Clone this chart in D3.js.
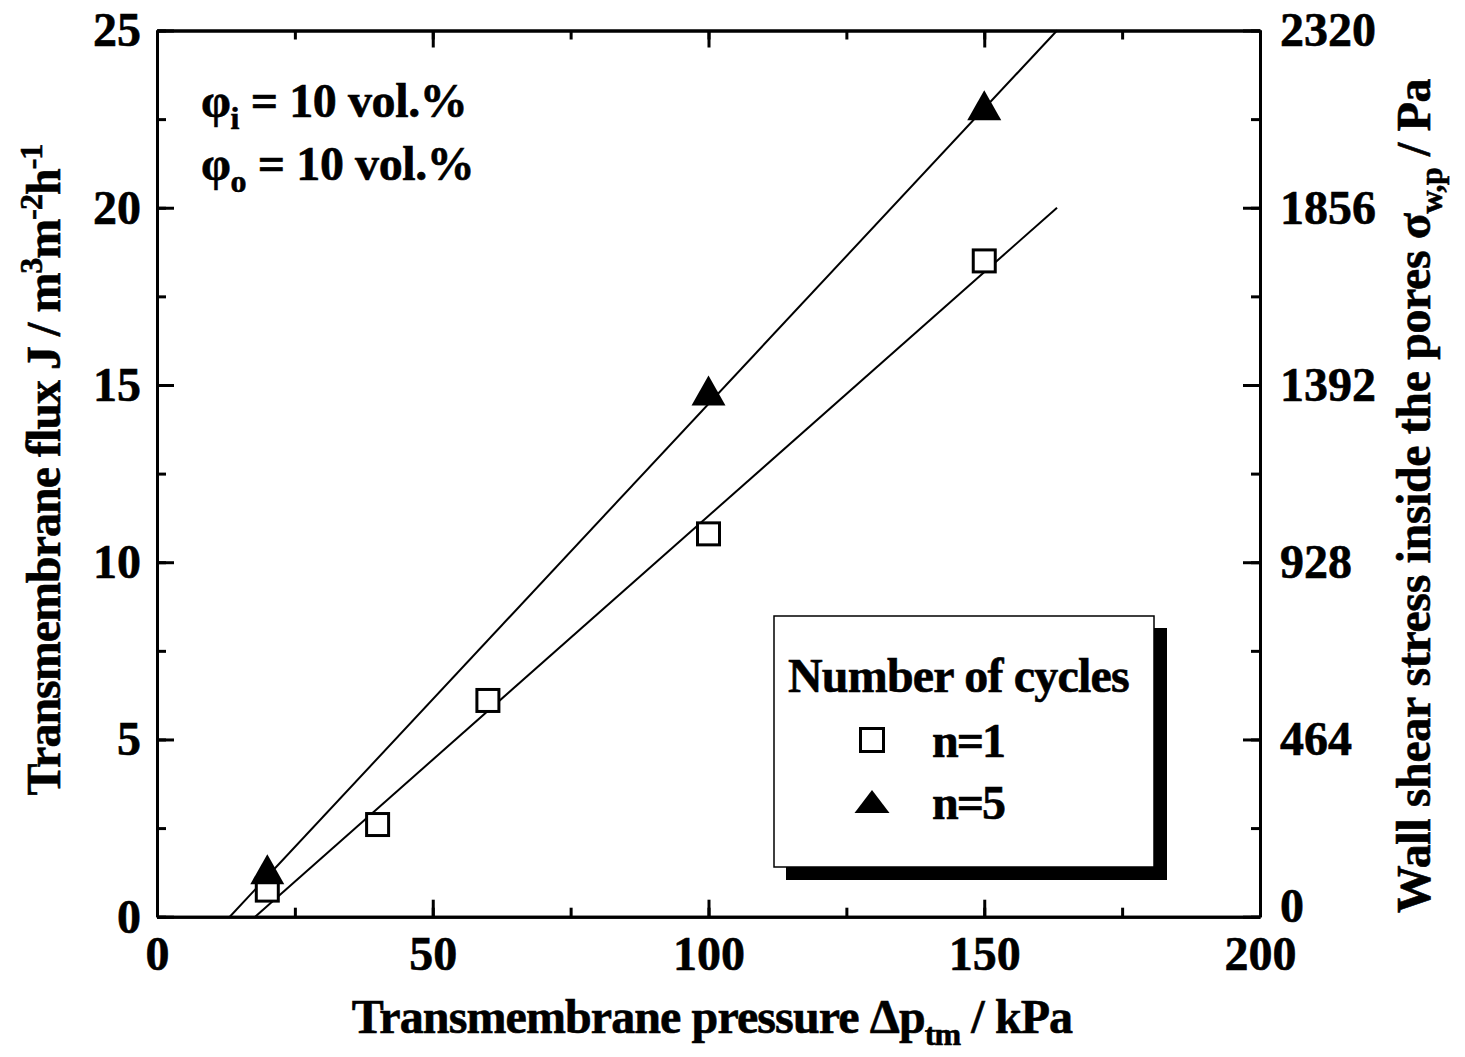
<!DOCTYPE html>
<html>
<head>
<meta charset="utf-8">
<script src="https://cdn.jsdelivr.net/npm/d3@7"></script>
<style>
  html, body { margin: 0; padding: 0; background: #fff; }
  svg { display: block; }
  text { font-family: "Liberation Serif", "Times New Roman", serif; font-weight: bold; fill: #000; stroke: #000; stroke-width: 0.6px; }
</style>
</head>
<body>
<svg id="chart" width="1465" height="1057"></svg>
<script>
// Transmembrane pressure (kPa) and measured flux (m3 m-2 h-1)
const pressureN1 = [20, 40, 60, 100, 150];
const fluxN1     = [0.75, 2.6, 6.1, 10.8, 18.5];
const pressureN5 = [20, 100, 150];
const fluxN5     = [1.2, 14.7, 22.75];

// Linear fits: [pressure, flux] end points
const fitN1 = [[17.8, 0], [163.2, 20]];
const fitN5 = [[13.2, 0], [163.2, 25]];

// Axis ticks
const xTicks = [0, 50, 100, 150, 200];
const yTicks = [0, 5, 10, 15, 20, 25];
const y2Ticks = [0, 464, 928, 1392, 1856, 2320];

const legendTitle = "Number of cycles";
const legendLabels = ["n=1", "n=5"];

const svg = d3.select("#chart");
const L = 157, R = 1260, T = 30.5, B = 916.7;

const x = d3.scaleLinear().domain([0, 200]).range([L, R]);
const y = d3.scaleLinear().domain([0, 25]).range([B, T]);
const y2 = d3.scaleLinear().domain([0, 2320]).range([B, T]);

const FS = 48;

function styleAxis(g, showLabels) {
  g.selectAll(".domain").attr("stroke", "#000").attr("stroke-width", 3);
  g.selectAll(".tick line").attr("stroke", "#000").attr("stroke-width", 3);
  g.selectAll(".tick text")
    .style("font-family", '"Liberation Serif", "Times New Roman", serif')
    .style("font-weight", "bold")
    .style("font-size", FS + "px")
    .attr("fill", "#000");
  if (!showLabels) g.selectAll(".tick text").remove();
}

// Minor ticks
const minorX = d3.range(0, 201, 25);
const minorY = d3.range(0, 25.01, 2.5);
const minorY2 = d3.range(0, 2321, 232);

svg.append("g").attr("transform", `translate(0,${B})`)
  .call(d3.axisBottom(x).tickValues(minorX).tickSize(-9).tickSizeOuter(0).tickFormat(""))
  .call(g => styleAxis(g, false));
svg.append("g").attr("transform", `translate(0,${T})`)
  .call(d3.axisTop(x).tickValues(minorX).tickSize(-9).tickSizeOuter(0).tickFormat(""))
  .call(g => styleAxis(g, false));
svg.append("g").attr("transform", `translate(${L},0)`)
  .call(d3.axisLeft(y).tickValues(minorY).tickSize(-9).tickSizeOuter(0).tickFormat(""))
  .call(g => styleAxis(g, false));
svg.append("g").attr("transform", `translate(${R},0)`)
  .call(d3.axisRight(y2).tickValues(minorY2).tickSize(-9).tickSizeOuter(0).tickFormat(""))
  .call(g => styleAxis(g, false));

// Major ticks and labels
svg.append("g").attr("transform", `translate(0,${B})`)
  .call(d3.axisBottom(x).tickValues(xTicks).tickSize(-17).tickSizeOuter(0).tickPadding(19).tickFormat(d3.format("d")))
  .call(g => styleAxis(g, true));
svg.append("g").attr("transform", `translate(0,${T})`)
  .call(d3.axisTop(x).tickValues(xTicks).tickSize(-17).tickSizeOuter(0).tickFormat(""))
  .call(g => styleAxis(g, false));
svg.append("g").attr("transform", `translate(${L},0)`)
  .call(d3.axisLeft(y).tickValues(yTicks).tickSize(-17).tickSizeOuter(0).tickPadding(16).tickFormat(d3.format("d")))
  .call(g => styleAxis(g, true));
const rightAxis = svg.append("g").attr("transform", `translate(${R},0)`)
  .call(d3.axisRight(y2).tickValues(y2Ticks).tickSize(-17).tickSizeOuter(0).tickPadding(20).tickFormat(d3.format("d")))
  .call(g => styleAxis(g, true));
// the lowest right-hand label sits just above the x labels
rightAxis.selectAll(".tick text").filter(d => d === 0).attr("dy", "0.1em");

// Fit lines
const line = d3.line().x(d => x(d[0])).y(d => y(d[1]));
[fitN1, fitN5].forEach(f => {
  svg.append("path").attr("d", line(f))
    .attr("fill", "none").attr("stroke", "#000").attr("stroke-width", 2);
});

// Markers
const SQ = 22;
function squareAt(g, cx, cy, s) {
  g.append("rect").attr("x", cx - s / 2).attr("y", cy - s / 2)
    .attr("width", s).attr("height", s)
    .attr("fill", "#fff").attr("stroke", "#000").attr("stroke-width", 3);
}
function triangleAt(g, cx, cy, w, h) {
  // cy is the centroid
  const top = cy - h * 2 / 3, bot = cy + h / 3;
  g.append("path")
    .attr("d", `M${cx},${top}L${cx + w / 2},${bot}L${cx - w / 2},${bot}Z`)
    .attr("fill", "#000");
}
const marks = svg.append("g");
pressureN1.forEach((p, i) => squareAt(marks, x(p), y(fluxN1[i]), SQ));
pressureN5.forEach((p, i) => triangleAt(marks, x(p), y(fluxN5[i]), 34, 30));

// Annotation
function phiLine(yb, sub) {
  const t = svg.append("text").attr("x", 201).attr("y", yb)
    .style("font-size", FS + "px").style("letter-spacing", "-0.4px");
  t.append("tspan").text("φ");
  t.append("tspan").attr("dy", 12).style("font-size", "32px").text(sub);
  t.append("tspan").attr("dy", -12).text(" = 10 vol.%");
}
phiLine(117, "i");
phiLine(180, "o");

// Legend
const lg = svg.append("g");
lg.append("rect").attr("x", 786).attr("y", 628).attr("width", 381).attr("height", 252).attr("fill", "#000");
lg.append("rect").attr("x", 774).attr("y", 616).attr("width", 380).attr("height", 251)
  .attr("fill", "#fff").attr("stroke", "#000").attr("stroke-width", 1.5);
lg.append("text").attr("x", 788).attr("y", 692)
  .style("font-size", FS + "px").style("letter-spacing", "-0.8px").text(legendTitle);
squareAt(lg, 872, 740, 23);
lg.append("path").attr("d", "M872,790L889.5,813L854.5,813Z").attr("fill", "#000");
lg.append("text").attr("x", 932).attr("y", 757)
  .style("font-size", FS + "px").style("letter-spacing", "-2px").text(legendLabels[0]);
lg.append("text").attr("x", 932).attr("y", 819)
  .style("font-size", FS + "px").style("letter-spacing", "-2px").text(legendLabels[1]);

// X axis title
const xt = svg.append("text").attr("x", 712).attr("y", 1033)
  .attr("text-anchor", "middle").style("font-size", FS + "px").style("letter-spacing", "-0.9px");
xt.append("tspan").text("Transmembrane pressure Δp");
xt.append("tspan").attr("dy", 12).style("font-size", "32px").text("tm");
xt.append("tspan").attr("dy", -12).text(" / kPa");

// Left Y axis title
const yt = svg.append("text")
  .attr("transform", "translate(60,470) rotate(-90)")
  .attr("text-anchor", "middle").style("font-size", FS + "px").style("letter-spacing", "-1px");
yt.append("tspan").text("Transmembrane flux J / m");
yt.append("tspan").attr("dy", -18).style("font-size", "32px").text("3");
yt.append("tspan").attr("dy", 18).text("m");
yt.append("tspan").attr("dy", -18).style("font-size", "32px").text("-2");
yt.append("tspan").attr("dy", 18).text("h");
yt.append("tspan").attr("dy", -18).style("font-size", "32px").text("-1");

// Right Y axis title
const y2t = svg.append("text")
  .attr("transform", "translate(1430,496) rotate(-90)")
  .attr("text-anchor", "middle").style("font-size", FS + "px").style("letter-spacing", "-0.4px");
y2t.append("tspan").text("Wall shear stress inside the pores σ");
y2t.append("tspan").attr("dy", 12).style("font-size", "32px").text("w,p");
y2t.append("tspan").attr("dy", -12).text(" / Pa");
</script>
</body>
</html>
